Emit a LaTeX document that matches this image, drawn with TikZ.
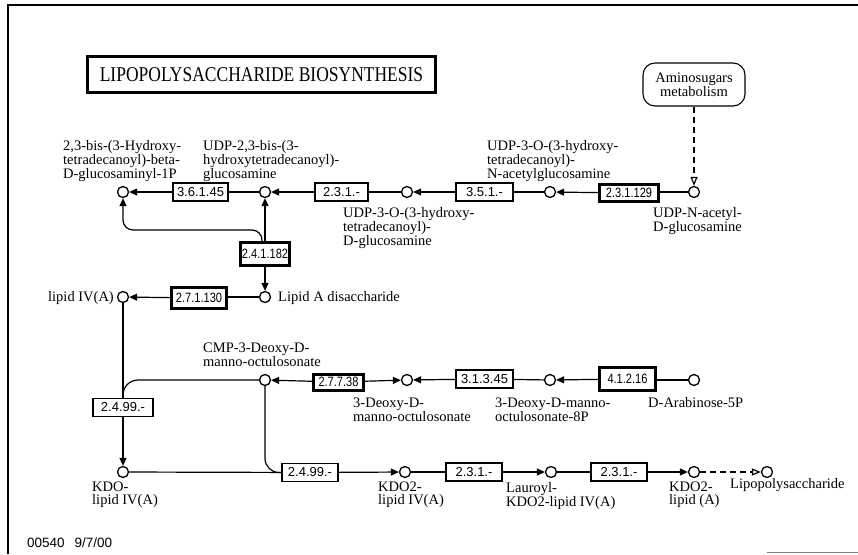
\documentclass[tikz,border=0pt]{standalone}
\usepackage{fontspec}
\setmainfont{Liberation Serif}
\setsansfont{Liberation Sans}
\usetikzlibrary{arrows.meta}
\newcommand{\cnd}[1]{\scalebox{0.82}[1]{#1}}
\begin{document}
\begin{tikzpicture}[x=1pt,y=-1pt,
  met/.style={circle,draw,line width=1.3pt,minimum size=11pt,inner sep=0pt},
  enz/.style={draw,line width=1.1pt,font=\sffamily\fontsize{13}{13}\selectfont,minimum height=18pt,inner sep=1pt},
  enzk/.style={draw,line width=3pt,font=\sffamily\fontsize{13.5}{13.5}\selectfont,inner sep=1pt},
  lbl/.style={font=\fontsize{14.5}{13}\selectfont,align=left,inner sep=0pt,anchor=north west},
  conn/.style={line width=1.2pt},
  arr/.style={conn,-{Triangle[length=8pt,width=7pt]}},
  oarr/.style={conn,dash pattern=on 6pt off 4pt,-{Triangle[open,length=9pt,width=7pt]}},
]
\useasboundingbox (0,0) rectangle (858,554);
% frame
\draw[line width=1.5pt] (8,554) -- (8,5) -- (858,5);
\draw[line width=0.8pt,gray] (767,552) -- (858,552);

% title
\node[draw,line width=3pt,minimum width=348pt,minimum height=36pt,font=\fontsize{17.5}{17.5}\selectfont] (title) at (261.5,74.5) {\scalebox{1}[1.2]{LIPOPOLYSACCHARIDE BIOSYNTHESIS}};
\node[draw,rounded corners=12pt,line width=1.1pt,minimum width=102pt,minimum height=43pt,align=center,font=\fontsize{14.5}{14}\selectfont] (amino) at (694,84.5) {Aminosugars\\metabolism};

% metabolites
\node[met] (c1) at (123,192) {};
\node[met] (c2) at (265,192) {};
\node[met] (c3) at (407,192) {};
\node[met] (c4) at (550,192) {};
\node[met] (c5) at (694,192) {};
\node[met] (lipidIV) at (123,297) {};
\node[met] (lipidA) at (265,297) {};
\node[met] (cmp) at (265,380) {};
\node[met] (kdo) at (407,380) {};
\node[met] (kdo8p) at (550,380) {};
\node[met] (ara) at (694,380) {};
\node[met] (kdolipid) at (123,472) {};
\node[met] (kdo2lipid) at (405,472) {};
\node[met] (lauroyl) at (551,472) {};
\node[met] (kdo2lipidA) at (694,472) {};
\node[met] (lps) at (767,472) {};

% enzymes
\node[enz,minimum width=55pt] (e36145) at (200.5,192) {3.6.1.45};
\node[enz,minimum width=53pt] (e231a) at (341.5,192) {2.3.1.-};
\node[enz,minimum width=57pt] (e351) at (484.5,192) {3.5.1.-};
\node[enzk,minimum width=59pt,minimum height=17pt] (e231129) at (629,193) {\cnd{2.3.1.129}};
\node[enzk,minimum width=49pt,minimum height=23pt] (e241182) at (265,254) {\cnd{2.4.1.182}};
\node[enzk,minimum width=55pt,minimum height=21pt] (e271130) at (199,298) {\cnd{2.7.1.130}};
\node[enz,minimum width=60pt] (e24999a) at (123,407.5) {2.4.99.-};
\node[enz,minimum width=56pt] (e24999b) at (310,472.5) {2.4.99.-};
\node[enzk,minimum width=50pt,minimum height=16pt] (e27738) at (338.5,382) {\cnd{2.7.7.38}};
\node[enz,minimum width=57pt] (e31345) at (484.5,379) {3.1.3.45};
\node[enzk,minimum width=56pt,minimum height=23pt] (e41216) at (627.5,379) {\cnd{4.1.2.16}};
\node[enz,minimum width=56pt] (e231b) at (474,472) {2.3.1.-};
\node[enz,minimum width=56pt] (e231c) at (619,472) {2.3.1.-};

% labels
\node[lbl] (l1) at (63,140) {2,3-bis-(3-Hydroxy-\\tetradecanoyl)-beta-\\D-glucosaminyl-1P};
\node[lbl] (l2) at (203,140) {UDP-2,3-bis-(3-\\hydroxytetradecanoyl)-\\glucosamine};
\node[lbl] (l4) at (487,140) {UDP-3-O-(3-hydroxy-\\tetradecanoyl)-\\N-acetylglucosamine};
\node[lbl] (l3) at (343,207) {UDP-3-O-(3-hydroxy-\\tetradecanoyl)-\\D-glucosamine};
\node[lbl] (l5) at (653,207) {UDP-N-acetyl-\\D-glucosamine};
\node[lbl,anchor=base east] (llIV) at (114,301) {lipid IV(A)};
\node[lbl,anchor=base west] (llA) at (278,301) {Lipid A disaccharide};
\node[lbl] (lcmp) at (203,343) {CMP-3-Deoxy-D-\\manno-octulosonate};
\node[lbl] (lkdo) at (353,398) {3-Deoxy-D-\\manno-octulosonate};
\node[lbl] (lkdo8p) at (495,398) {3-Deoxy-D-manno-\\octulosonate-8P};
\node[lbl] (lara) at (648,397) {D-Arabinose-5P};
\node[lbl] (lkl) at (92,482) {KDO-\\lipid IV(A)};
\node[lbl] (lk2l) at (378,482) {KDO2-\\lipid IV(A)};
\node[lbl] (llau) at (506,482) {Lauroyl-\\KDO2-lipid IV(A)};
\node[lbl] (lk2A) at (669,482) {KDO2-\\lipid (A)};
\node[lbl] (llps) at (730,478) {Lipopolysaccharide};
\node[font=\sffamily\fontsize{13.5}{13.5}\selectfont,anchor=base west,inner sep=0pt] (date) at (27,547) {00540\hspace{10pt}9/7/00};

% connectors row 1
\draw[oarr] (amino) -- (c5);
\draw[conn] (c5) -- (c5 -| e231129.east);
\draw[arr] (e231129) -- (c4);
\draw[conn] (c4) -- (e351);
\draw[arr] (e351) -- (c3);
\draw[conn] (c3) -- (e231a);
\draw[arr] (e231a) -- (c2);
\draw[conn] (c2) -- (e36145);
\draw[arr] (e36145) -- (c1);
% 2.4.1.182
\coordinate (k1) at (123,230);
\draw[arr] (e241182) -- (c2);
\draw[arr,rounded corners=10pt] ([xshift=-3pt]e241182.north) |- (k1) -- (c1);
\draw[arr] (e241182) -- (lipidA);
% row 2
\draw[conn] (lipidA) -- (lipidA -| e271130.east);
\draw[arr] (e271130) -- (lipidIV);
\draw[conn] (lipidIV) -- (e24999a);
\draw[arr] (e24999a) -- (kdolipid);
\draw[conn,rounded corners=15pt] (cmp.west) -| (e24999a.north);
\draw[conn,rounded corners=14pt] (cmp.south) |- (e24999b.west);
% row 3
\draw[conn] (ara) -- (ara -| e41216.east);
\draw[arr] (e41216) -- (kdo8p);
\draw[conn] (kdo8p) -- (e31345);
\draw[arr] (e31345) -- (kdo);
\draw[arr] (e27738) -- (kdo);
\draw[arr] (e27738) -- (cmp);
% row 4
\draw[conn] (kdolipid) -- (e24999b);
\draw[arr] (e24999b) -- (kdo2lipid);
\draw[conn] (kdo2lipid) -- (e231b);
\draw[arr] (e231b) -- (lauroyl);
\draw[conn] (lauroyl) -- (e231c);
\draw[arr] (e231c) -- (kdo2lipidA);
\draw[oarr] (kdo2lipidA) -- (lps);
\end{tikzpicture}
\end{document}
